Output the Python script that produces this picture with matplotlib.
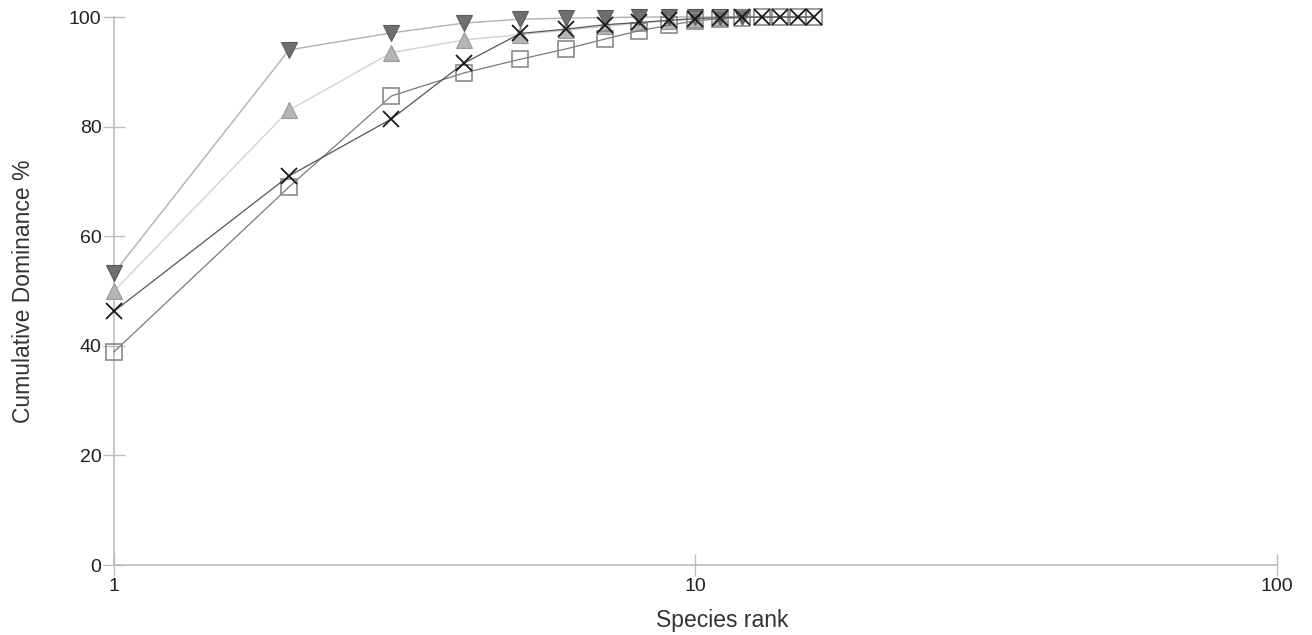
import matplotlib
matplotlib.use("Agg")
import matplotlib.pyplot as plt
from matplotlib.ticker import FixedLocator, FixedFormatter, NullLocator

plt.rcParams['font.family'] = ['Liberation Sans', 'DejaVu Sans']

# Data (cumulative dominance % by species rank)
down_tri = [53.3, 94.0, 97.1, 98.9, 99.6, 99.8, 99.9, 100, 100, 100, 100, 100]
up_tri = [50.0, 83.0, 93.5, 95.8, 96.8, 97.6, 98.3, 98.9, 99.3, 99.7, 100]
cross = [46.3, 71.0, 81.4, 91.6, 97.0, 97.8, 98.6, 99.0, 99.4, 99.7, 99.9, 100, 100, 100, 100, 100]
square = [38.9, 69.0, 85.6, 89.8, 92.3, 94.2, 96.0, 97.5, 98.5, 99.3, 99.7, 99.9, 100, 100, 100, 100]

x_ticks = [1, 10, 100]
x_tick_labels = ["1", "10", "100"]
y_ticks = [0, 20, 40, 60, 80, 100]


def ranks(values):
    return list(range(1, len(values) + 1))


fig = plt.figure(figsize=(13.12, 6.35), dpi=100)
ax = fig.add_axes([0.0869, 0.1102, 0.8864, 0.8630])

ax.plot(ranks(up_tri), up_tri, color='#d2d2d2', lw=1.0, marker='^', ms=12,
        mfc='#b4b4b4', mec='#9a9a9a', mew=0.8, zorder=2)
ax.plot(ranks(down_tri), down_tri, color='#b0b0b0', lw=1.0, marker='v', ms=12,
        mfc='#6f6f6f', mec='#5a5a5a', mew=0.8, zorder=3)
ax.plot(ranks(square), square, color='#7a7a7a', lw=0.9, marker='s', ms=12,
        mfc='none', mec='#8a8a8a', mew=1.2, zorder=4)
ax.plot(ranks(cross), cross, color='#555555', lw=0.9, marker='x', ms=12,
        mfc='none', mec='#1a1a1a', mew=1.3, zorder=5)

ax.set_xscale('log')
ax.set_xlim(1, 100)
ax.set_ylim(0, 100)
ax.xaxis.set_major_locator(FixedLocator(x_ticks))
ax.xaxis.set_major_formatter(FixedFormatter(x_tick_labels))
ax.xaxis.set_minor_locator(NullLocator())
ax.set_yticks(y_ticks)

for side in ['top', 'right']:
    ax.spines[side].set_visible(False)
for side in ['left', 'bottom']:
    ax.spines[side].set_color('#bdbdbd')
    ax.spines[side].set_linewidth(1.2)

ax.tick_params(axis='both', which='major', direction='inout', length=16,
               width=1.0, color='#bdbdbd', labelsize=14, labelcolor='#222222')
ax.tick_params(axis='y', pad=1)
ax.tick_params(axis='x', pad=1)

ax.set_xlabel('Species rank', fontsize=16.5, color='#333333')
ax.set_ylabel('Cumulative Dominance %', fontsize=16.5, color='#333333')
ax.xaxis.set_label_coords(0.523, -0.08)
ax.yaxis.set_label_coords(-0.068, 0.5)

for spine in ax.spines.values():
    spine.set_zorder(1)
ax.set_axisbelow(True)
for line in ax.get_lines():
    line.set_clip_on(False)

fig.savefig('out.png', dpi=100, facecolor='white')
